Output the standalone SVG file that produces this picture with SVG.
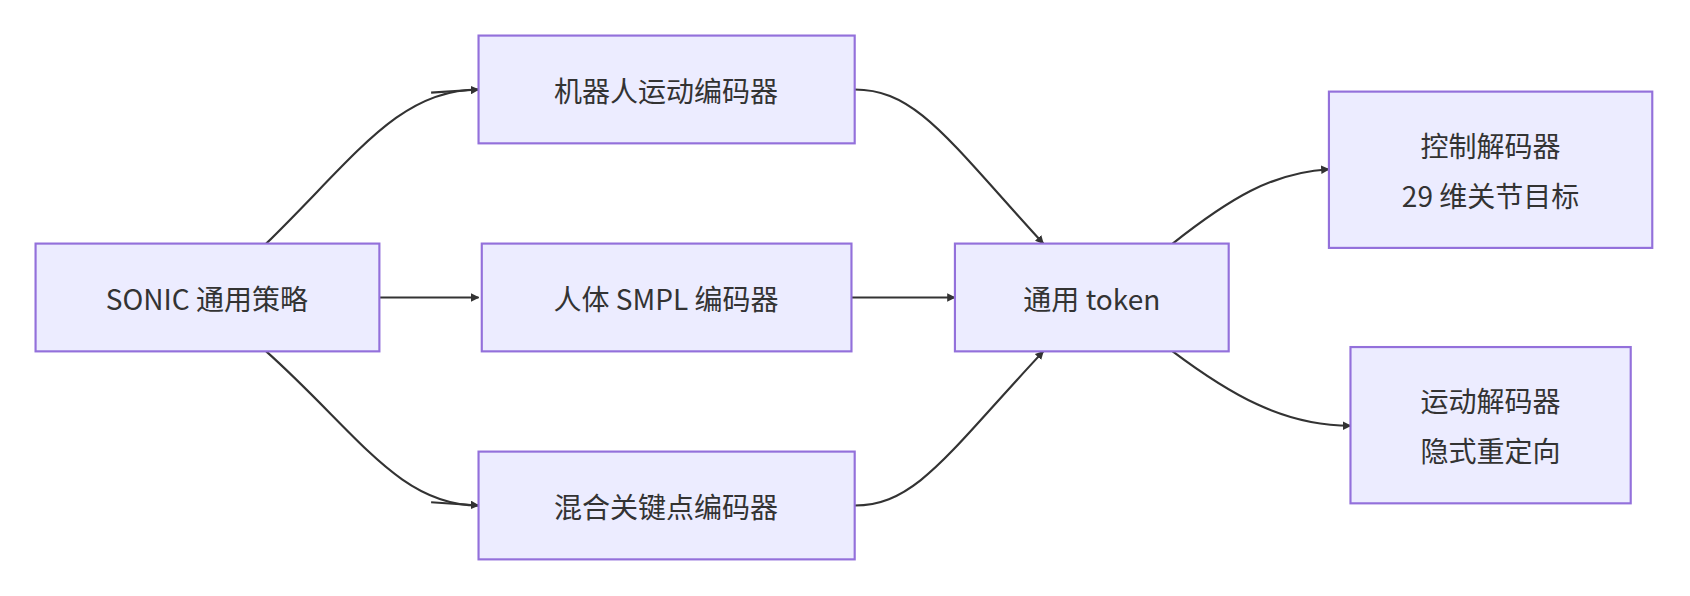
<svg xmlns="http://www.w3.org/2000/svg" width="1690" height="596" viewBox="0 0 1690 596">
<style>
.n rect{fill:#ECECFF;stroke:#9370DB;stroke-width:2}
.n text{font-family:"Noto Sans CJK SC","Liberation Sans",sans-serif;font-size:26px;fill:#333;text-anchor:middle;dominant-baseline:central}
.e path{fill:none;stroke:#333;stroke-width:2;marker-end:url(#a)}
</style>
<defs><marker id="a" viewBox="0 0 10 10" refX="9" refY="5" markerWidth="8" markerHeight="8" orient="auto" markerUnits="userSpaceOnUse" ><path d="M0,0L10,5L0,10z" fill="#333" stroke="none"/></marker></defs>
<rect width="1690" height="596" fill="#fff"/>
<g transform="scale(1.0778)">
<g class="e">
<path d="M247,226 C330,145 370,83 444,83" style="marker-end:none"/>
<path d="M400,86 L444,83"/>
<path d="M352,276 L444,276"/>
<path d="M247,326 C330,400 370,469 444,469" style="marker-end:none"/>
<path d="M400,466 L444,469"/>
<path d="M793,83 C850,83 880,130 968,226"/>
<path d="M790,276 L886,276"/>
<path d="M793,469 C850,469 880,420 968,326"/>
<path d="M1088,226 C1140,185 1180,160 1233,157"/>
<path d="M1088,326 C1140,365 1190,395 1253,395"/>
</g>
<g id="sonic" class="n"><rect x="33" y="226" width="319" height="100"/><text x="192" y="276">SONIC 通用策略</text></g>
<g id="robot" class="n"><rect x="444" y="33" width="349" height="100"/><text x="618" y="83">机器人运动编码器</text></g>
<g id="smpl" class="n"><rect x="447" y="226" width="343" height="100"/><text x="618" y="276">人体 SMPL 编码器</text></g>
<g id="mix" class="n"><rect x="444" y="419" width="349" height="100"/><text x="618" y="469">混合关键点编码器</text></g>
<g id="token" class="n"><rect x="886" y="226" width="254" height="100"/><text x="1013" y="276">通用 token</text></g>
<g id="ctrl" class="n"><rect x="1233" y="85" width="300" height="145"/><text x="1383" y="134">控制解码器</text><text x="1383" y="180">29 维关节目标</text></g>
<g id="motion" class="n"><rect x="1253" y="322" width="260" height="145"/><text x="1383" y="371">运动解码器</text><text x="1383" y="417">隐式重定向</text></g>
</g>
</svg>
